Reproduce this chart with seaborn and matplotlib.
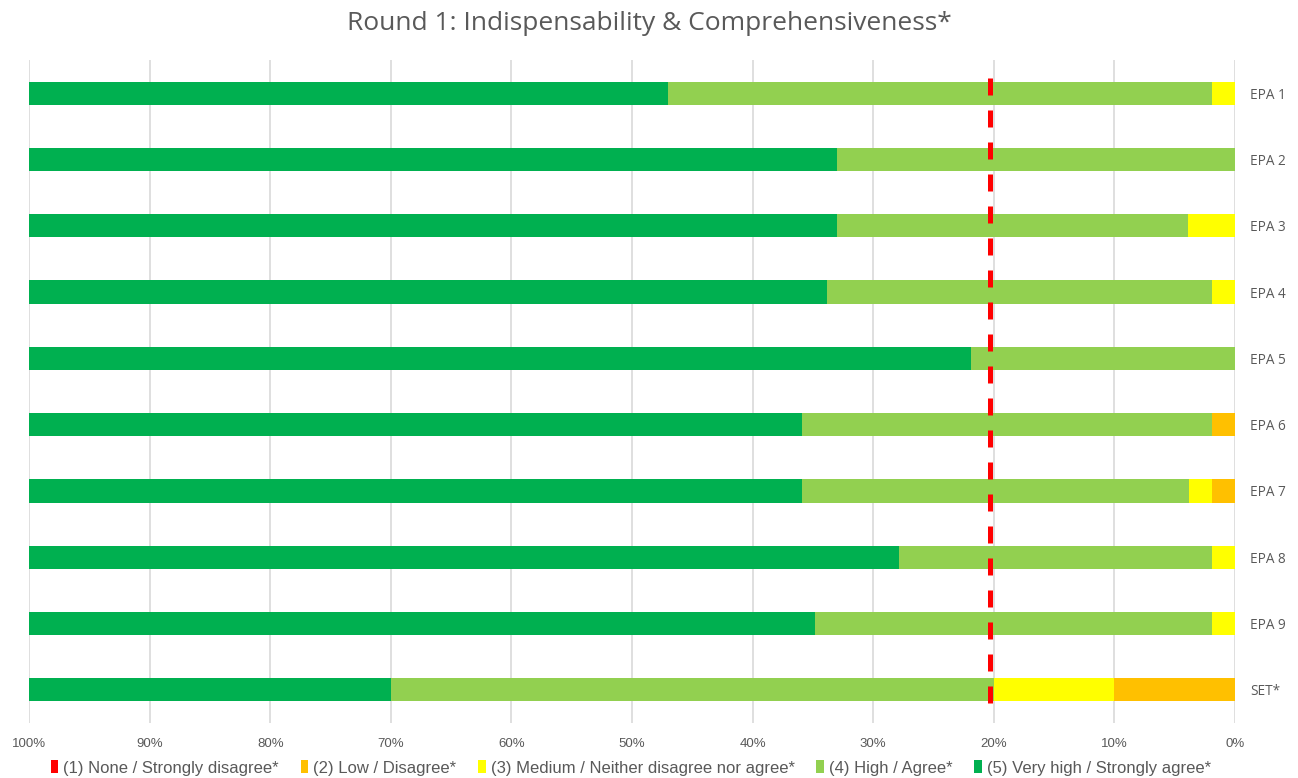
import numpy as np
import pandas as pd
import matplotlib
matplotlib.use("Agg")
import matplotlib.pyplot as plt
from matplotlib.patches import Patch
import seaborn as sns

# ---- data (percent of respondents) ----
categories = ["EPA 1", "EPA 2", "EPA 3", "EPA 4", "EPA 5", "EPA 6", "EPA 7", "EPA 8", "EPA 9", "SET*"]
none_sd = [0, 0, 0, 0, 0, 0, 0, 0, 0, 0]
low = [0, 0, 0, 0, 0, 1.9, 1.9, 0, 0, 10.0]
medium = [1.9, 0, 3.9, 1.9, 0, 0, 1.9, 1.9, 1.9, 10.0]
high = [45.1, 33.0, 29.1, 31.9, 21.9, 34.0, 32.1, 26.0, 32.9, 50.0]
very_high = [53.0, 67.0, 67.0, 66.2, 78.1, 64.1, 64.1, 72.1, 65.2, 30.0]
threshold = 20.3
x_ticks = [100, 90, 80, 70, 60, 50, 40, 30, 20, 10, 0]

series_names = ["(1) None / Strongly disagree*", "(2) Low / Disagree*",
                "(3) Medium / Neither disagree nor agree*", "(4) High / Agree*",
                "(5) Very high / Strongly agree*"]
colors = ["#FF0000", "#FFC000", "#FFFF00", "#92D050", "#00B050"]

sns.set_theme(style="white")
plt.rcParams["font.family"] = ["Liberation Sans", "DejaVu Sans"]

fig = plt.figure(figsize=(12.98, 7.78), dpi=100)
ax = fig.add_axes([29 / 1298, 1 - 723 / 778, (1235 - 29) / 1298, (723 - 60) / 778])

df = pd.DataFrame({"cat": categories})
series = [none_sd, low, medium, high, very_high]
cum = np.cumsum(np.array(series, dtype=float), axis=0)
# draw from the outermost cumulative total inward
for i in range(len(series) - 1, -1, -1):
    df["v"] = cum[i]
    sns.barplot(data=df, x="v", y="cat", order=categories, orient="h",
                color=colors[i], saturation=1, width=0.35, errorbar=None,
                linewidth=0, ax=ax)

ax.set_xlim(100, 0)
ax.set_ylim(9.5, -0.5)
ax.set_xticks(x_ticks)
ax.set_xticklabels([f"{t}%" for t in x_ticks], fontsize=9.5, color="#595959",
                   family=["Liberation Sans Narrow", "Liberation Sans", "DejaVu Sans"])
ax.xaxis.grid(True, color="#D9D9D9", linewidth=1.2)
ax.set_axisbelow(True)
for s in ax.spines.values():
    s.set_visible(False)
ax.tick_params(axis="x", length=0, pad=11)
ax.yaxis.tick_right()
ax.tick_params(axis="y", length=0, pad=11, labelsize=9.8, labelcolor="#595959")
for lab in ax.get_yticklabels():
    lab.set_family(["Open Sans", "DejaVu Sans"])
ax.set_xlabel("")
ax.set_ylabel("")

# threshold dashed line
ax.plot([threshold, threshold], [-0.23, 9.28], color="#FF0000", linewidth=3.6,
        linestyle=(0, (3.4, 3.0)), solid_capstyle="butt", dash_capstyle="butt", zorder=5)

fig.text(0.5, 1 - 23 / 778, "Round 1: Indispensability & Comprehensiveness*",
         ha="center", va="center", fontsize=19, color="#595959",
         family=["Open Sans", "DejaVu Sans"])

handles = [Patch(facecolor=c, edgecolor="none") for c in colors]
leg = fig.legend(handles, series_names, loc="center", bbox_to_anchor=(0.486, 1 - 768 / 778),
                 ncol=5, frameon=False, fontsize=12, handlelength=0.45, handleheight=0.8,
                 handletextpad=0.3, columnspacing=1.3, labelcolor="#595959")

fig.savefig("out.png", dpi=100)
